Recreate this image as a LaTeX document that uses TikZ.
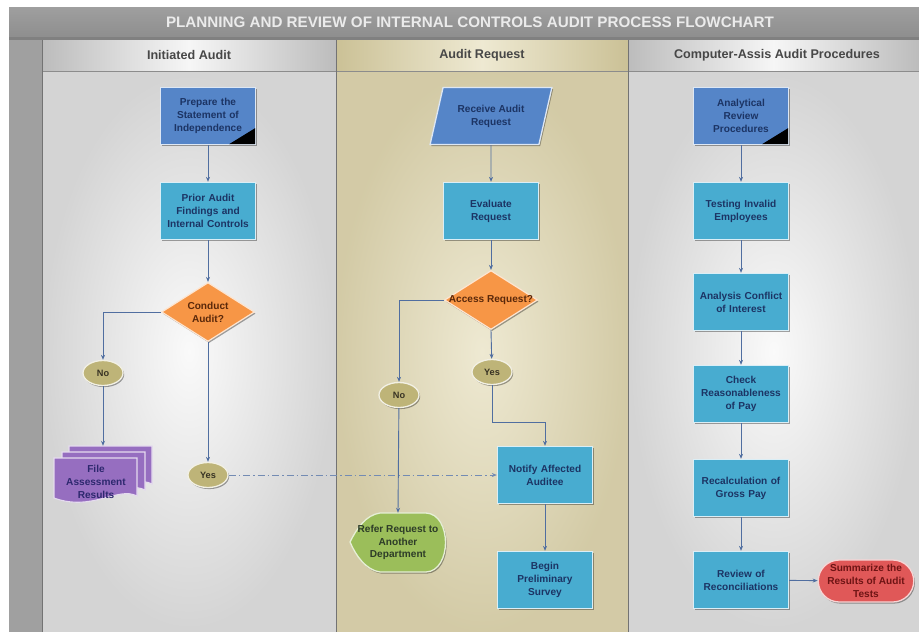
\documentclass[tikz,border=0pt]{standalone}
\usepackage{fontspec}
\setmainfont{Liberation Sans}
\usetikzlibrary{shapes.geometric,shapes.misc,arrows.meta,shadows}
\definecolor{blueA}{RGB}{85,133,200}
\definecolor{cyanB}{RGB}{72,172,208}
\definecolor{navyT}{RGB}{28,52,100}
\definecolor{orangeD}{RGB}{247,150,70}
\definecolor{orangeT}{RGB}{90,40,10}
\definecolor{oliveE}{RGB}{190,180,120}
\definecolor{oliveT}{RGB}{55,50,35}
\definecolor{purpD}{RGB}{150,110,192}
\definecolor{purpT}{RGB}{45,40,110}
\definecolor{greenD}{RGB}{155,190,90}
\definecolor{greenT}{RGB}{45,60,40}
\definecolor{redT}{RGB}{224,88,88}
\definecolor{redTT}{RGB}{110,20,20}
\definecolor{lineC}{RGB}{80,110,160}
\definecolor{titleC}{RGB}{142,142,142}
\definecolor{stripC}{RGB}{160,160,160}
\definecolor{silverA}{RGB}{188,188,188}
\definecolor{silverB}{RGB}{246,246,246}
\definecolor{khakiA}{RGB}{203,193,150}
\definecolor{khakiB}{RGB}{238,233,210}
\begin{document}
\begin{tikzpicture}[x=1pt,y=-1pt,
  boxfont/.style={font=\bfseries\fontsize{10.1}{12.8}\selectfont},
  shad/.style={drop shadow={shadow xshift=1.2pt,shadow yshift=-1.6pt,opacity=0.35,fill=black}},
  proc/.style={rectangle,fill=cyanB,draw=white!80!cyanB,line width=1.3pt,
    minimum width=95pt,minimum height=57pt,text width=93pt,align=center,
    inner sep=1pt,boxfont,text=navyT,shad},
  startbox/.style={proc,fill=blueA,draw=white!80!blueA},
  decision/.style={diamond,fill=orangeD,draw=white!75!orangeD,line width=1.2pt,
    minimum width=93pt,minimum height=59pt,inner sep=0pt,shad},
  decl/.style={boxfont,text=orangeT,align=center},
  answer/.style={ellipse,fill=oliveE,draw=white!80!oliveE,line width=1.3pt,
    minimum width=40pt,minimum height=25pt,inner sep=0pt,
    font=\bfseries\fontsize{9.2}{11}\selectfont,text=oliveT,shad},
  conn/.style={draw=lineC,line width=0.9pt,-{Stealth[length=5pt,width=4pt]}},
  conndash/.style={conn,draw=lineC!80,dash pattern=on 7pt off 3pt on 1.5pt off 3pt},
  hdr/.style={font=\bfseries\fontsize{12.6}{14}\selectfont,text=black!72},
]
\useasboundingbox (0,0) rectangle (919,632);
\fill[white] (0,0) rectangle (919,632);
% title bar and left strip
\shade[top color=titleC!85!white,bottom color=titleC] (9,7) rectangle (919,37);
\fill[stripC] (9,37) rectangle (42,632);
\fill[stripC!80!black] (9,37) rectangle (919,40);
\node[font=\bfseries\fontsize{15.2}{17}\selectfont,text=white!92!black] (title) at (470,22)
  {PLANNING AND REVIEW OF INTERNAL CONTROLS AUDIT PROCESS FLOWCHART};
% lane bodies
\shade[inner color=white!98!black,outer color=black!17] (42,71) rectangle (336,632);
\shade[inner color=khakiB,outer color=khakiA!85!white] (336,71) rectangle (628,632);
\shade[inner color=white!98!black,outer color=black!17] (628,71) rectangle (919,632);
% lane headers
\shade[left color=silverA,right color=silverA,middle color=silverB] (42,40) rectangle (336,71);
\shade[left color=khakiA,right color=khakiA,middle color=khakiB] (336,40) rectangle (628,71);
\shade[left color=silverA,right color=silverA,middle color=silverB] (628,40) rectangle (919,71);
\draw[black!45,line width=0.8pt] (42,71) -- (919,71);
\draw[black!55,line width=0.8pt] (42,40) -- (42,632);
\draw[black!55,line width=0.8pt] (336,40) -- (336,632);
\draw[black!55,line width=0.8pt] (628,40) -- (628,632);
\node[hdr] (h1) at (189,55) {Initiated Audit};
\node[hdr] (h2) at (482,55) {Audit Request};
\node[hdr] (h3) at (777,55) {Computer-Assis Audit Procedures};

% ---------- lane 1 ----------
\node[startbox] (prep) at (208,116) {Prepare the\\Statement of\\Independence};
\fill[black] ([xshift=-1pt,yshift=1pt]prep.south east) -- ++(-26,0) -- ++(26,-16) -- cycle;
\node[proc] (prior) at (208,211) {Prior Audit\\Findings and\\Internal Controls};
\node[decision,label={[decl]center:Conduct\\Audit?}] (cond) at (208,312) {};
\node[answer] (no1) at (103,373) {No};
\node[answer] (yes1) at (208,475) {Yes};
% multi-document
\foreach \dx/\dy in {15/-12,8/-6,0/0}{
  \filldraw[fill=purpD,draw=white!75!purpD,line width=1.1pt,shift={(\dx,\dy)}]
    (54,458) -- (137,458) -- (137,496) .. controls (118,486) and (92,512) .. (54,498) -- cycle;
}
\node[minimum width=96pt,minimum height=58pt,inner sep=0pt] (fileback) at (110,475) {};
\node[boxfont,text=purpT,align=center] (filedoc) at (96,482) {File\\Assessment\\Results};

% ---------- lane 2 ----------
\node[trapezium,trapezium left angle=71,trapezium right angle=109,trapezium stretches=true,
  fill=blueA,draw=white!80!blueA,line width=1.3pt,minimum width=122pt,minimum height=57pt,
  boxfont,text=navyT,align=center,shad] (recv) at (491,116) {Receive Audit\\Request};
\node[proc] (eval) at (491,211) {Evaluate\\Request};
\node[decision,label={[decl]center:Access Request?}] (acc) at (491,300) {};
\node[answer] (yes2) at (492,372) {Yes};
\node[answer] (no2) at (399,395) {No};
\node[proc] (notify) at (545,475) {Notify Affected\\Auditee};
\node[proc] (begin) at (545,580) {Begin\\Preliminary\\Survey};
% display shape
\filldraw[fill=greenD,draw=white!75!greenD,line width=1.3pt,
  drop shadow={shadow xshift=1.2pt,shadow yshift=-1.6pt,opacity=0.35,fill=black}]
  (380,513) -- (426,513) .. controls (452,514) and (452,571) .. (426,572)
  -- (380,572) .. controls (366,570) and (356,556) .. (350,542)
  .. controls (357,528) and (366,515) .. (380,513) -- cycle;
\node[boxfont,text=greenT,align=center,minimum width=96pt,minimum height=59pt,inner sep=0pt]
  (refer) at (398,542.5) {Refer Request to\\Another\\Department};

% ---------- lane 3 ----------
\node[startbox] (anal) at (741,116) {Analytical\\Review\\Procedures};
\fill[black] ([xshift=-1pt,yshift=1pt]anal.south east) -- ++(-26,0) -- ++(26,-16) -- cycle;
\node[proc] (test) at (741,211) {Testing Invalid\\Employees};
\node[proc] (conf) at (741,302) {Analysis Conflict\\of Interest};
\node[proc] (check) at (741,394) {Check\\Reasonableness\\of Pay};
\node[proc] (recalc) at (741,488) {Recalculation of\\Gross Pay};
\node[proc] (review) at (741,580) {Review of\\Reconciliations};
\node[rounded rectangle,fill=redT,draw=white!75!redT,line width=1.3pt,
  minimum width=92pt,minimum height=42pt,inner sep=1pt,align=center,
  boxfont,text=redTT,shad] (summ) at (866,581) {Summarize the\\Results of Audit\\Tests};

% ---------- connectors ----------
\draw[conn] (prep) -- (prior);
\draw[conn] (prior) -- (cond);
\draw[conn] (cond.west) -| (no1);
\draw[conn] (cond.south) -- (yes1);
\draw[conn] (no1) -- (no1 |- fileback.north);
\draw[conndash] (yes1) -- (notify);
\draw[conn] (recv) -- (eval);
\draw[conn] (eval) -- (acc);
\draw[conn] (acc.west) -| (no2);
\draw[conn] (acc.south) -- (yes2);
\coordinate (bend) at (492,422);
\draw[conn] (yes2) -- (bend) -| (notify.north);
\draw[conn] (no2) -- (refer.north);
\draw[conn] (notify) -- (begin);
\draw[conn] (anal) -- (test);
\draw[conn] (test) -- (conf);
\draw[conn] (conf) -- (check);
\draw[conn] (check) -- (recalc);
\draw[conn] (recalc) -- (review);
\draw[conn] (review) -- (summ);
\end{tikzpicture}
\end{document}
